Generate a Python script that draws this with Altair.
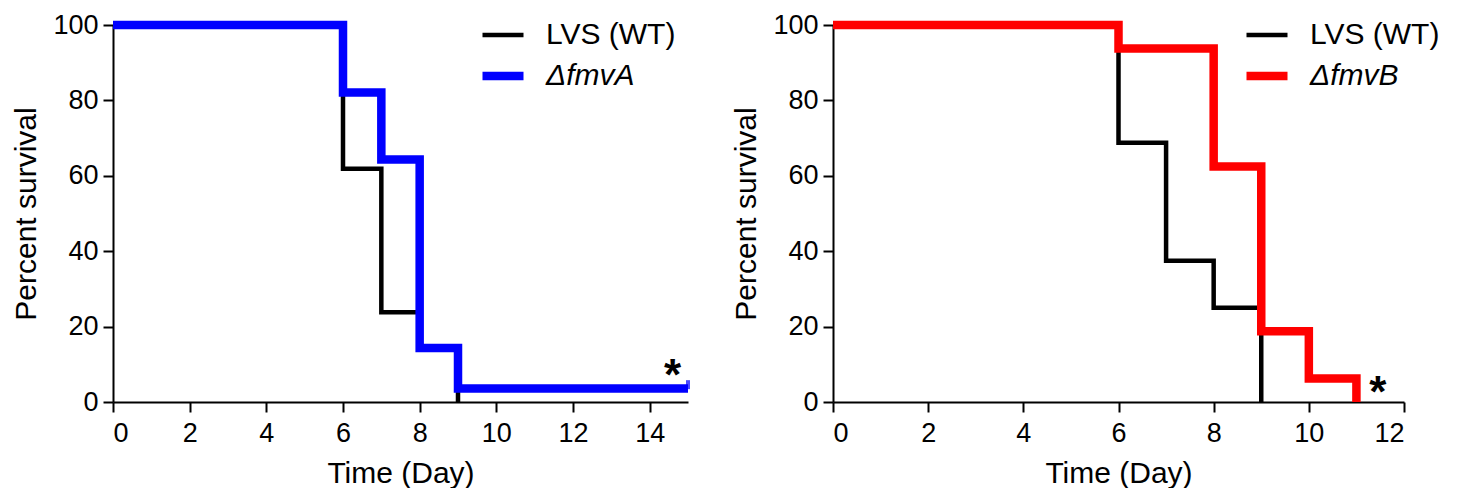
import altair as alt
import pandas as pd

WT = "LVS (WT)"
MUT_A = "ΔfmvA"
MUT_B = "ΔfmvB"

# Left panel (Kaplan-Meier steps)
a_wt_time = [0, 6, 7, 8, 9]
a_wt_surv = [100, 61.9, 23.8, 14.3, 0]
a_mut_time = [0, 6, 7, 8, 9, 15]
a_mut_surv = [100, 82.1, 64.3, 14.3, 3.6, 3.6]
a_censor_time = [15]
a_censor_surv = [4.6]
a_star_x = [14.6]
a_star_y = [9]

# Right panel
b_wt_time = [0, 6, 7, 8, 9]
b_wt_surv = [100, 68.75, 37.5, 25, 0]
b_mut_time = [0, 6, 8, 9, 10, 11]
b_mut_surv = [100, 93.75, 62.5, 18.75, 6.25, 0]
b_star_x = [11.45]
b_star_y = [4.5]

y_ticks = [0, 20, 40, 60, 80, 100]
a_x_ticks = [0, 2, 4, 6, 8, 10, 12, 14]
b_x_ticks = [0, 2, 4, 6, 8, 10, 12]

FONT = "Liberation Sans"


def panel(wt_t, wt_v, mut_t, mut_v, mut_name, mut_color, xmax, xticks, width,
          star_x, star_y, legend_x, censor_t=None, censor_v=None):
    df = pd.DataFrame(
        {"time": wt_t + mut_t,
         "surv": wt_v + mut_v,
         "series": [WT] * len(wt_t) + [mut_name] * len(mut_t)}
    )
    domain = [WT, mut_name]
    leg = alt.Legend(
        title=None, orient="none", legendX=legend_x, legendY=-13,
        symbolType="stroke", symbolSize=1681, labelFontSize=30, labelFont=FONT,
        labelColor="black", labelOffset=18, rowPadding=1, padding=0,
        labelFontStyle=alt.ExprRef(expr="datum.label == 'LVS (WT)' ? 'normal' : 'italic'"),
    )
    x = alt.X("time:Q", scale=alt.Scale(domain=[0, xmax], nice=False),
              axis=alt.Axis(values=xticks, title="Time (Day)"))
    y = alt.Y("surv:Q", scale=alt.Scale(domain=[0, 100], nice=False),
              axis=alt.Axis(values=y_ticks, title="Percent survival"))
    color = alt.Color("series:N", scale=alt.Scale(domain=domain, range=["black", mut_color]), legend=leg)
    sw = alt.StrokeWidth("series:N", scale=alt.Scale(domain=domain, range=[4.5, 8.5]), legend=leg)
    base = alt.Chart(df).mark_line(interpolate="step-after", strokeJoin="miter").encode(
        x=x, y=y, color=color, strokeWidth=sw)
    wt_layer = base.transform_filter(alt.datum.series == WT)
    mut_layer = base.transform_filter(alt.datum.series == mut_name)
    layers = [wt_layer, mut_layer]
    if censor_t:
        cdf = pd.DataFrame({"time": censor_t, "surv": censor_v})
        layers.append(
            alt.Chart(cdf).mark_tick(orient="vertical", size=9, thickness=4, color=mut_color)
            .encode(x="time:Q", y="surv:Q"))
    sdf = pd.DataFrame({"time": star_x, "surv": star_y, "t": ["*"] * len(star_x)})
    layers.append(
        alt.Chart(sdf).mark_text(fontSize=44, fontWeight="bold", font=FONT, color="black",
                                 baseline="middle", dy=9)
        .encode(x="time:Q", y="surv:Q", text="t:N"))
    return alt.layer(*layers).properties(width=width, height=377)


left = panel(a_wt_time, a_wt_surv, a_mut_time, a_mut_surv, MUT_A, "#0000ff", 15, a_x_ticks, 575,
             a_star_x, a_star_y, 365, a_censor_time, a_censor_surv)
right = panel(b_wt_time, b_wt_surv, b_mut_time, b_mut_surv, MUT_B, "#ff0000", 12, b_x_ticks, 571,
              b_star_x, b_star_y, 409)

chart = (
    alt.hconcat(left, right, spacing=145, bounds="flush")
    .resolve_scale(color="independent", strokeWidth="independent", x="independent", y="independent")
    .configure(padding={"left": 3, "top": 0, "right": 0, "bottom": 0})
    .configure_view(stroke=None)
    .configure_axis(
        grid=False, domainColor="black", domainWidth=2, tickColor="black", tickWidth=2,
        tickSize=10, labelFontSize=27, labelFont=FONT, labelColor="black",
        titleFontSize=30, titleFont=FONT, titleFontWeight="normal", titleColor="black",
        labelPadding=5,
    )
    .configure_axisX(titlePadding=12, labelPadding=8)
    .configure_axisY(titlePadding=11)
)

chart.save("out.html", embed_options={"renderer": "svg", "actions": False})
